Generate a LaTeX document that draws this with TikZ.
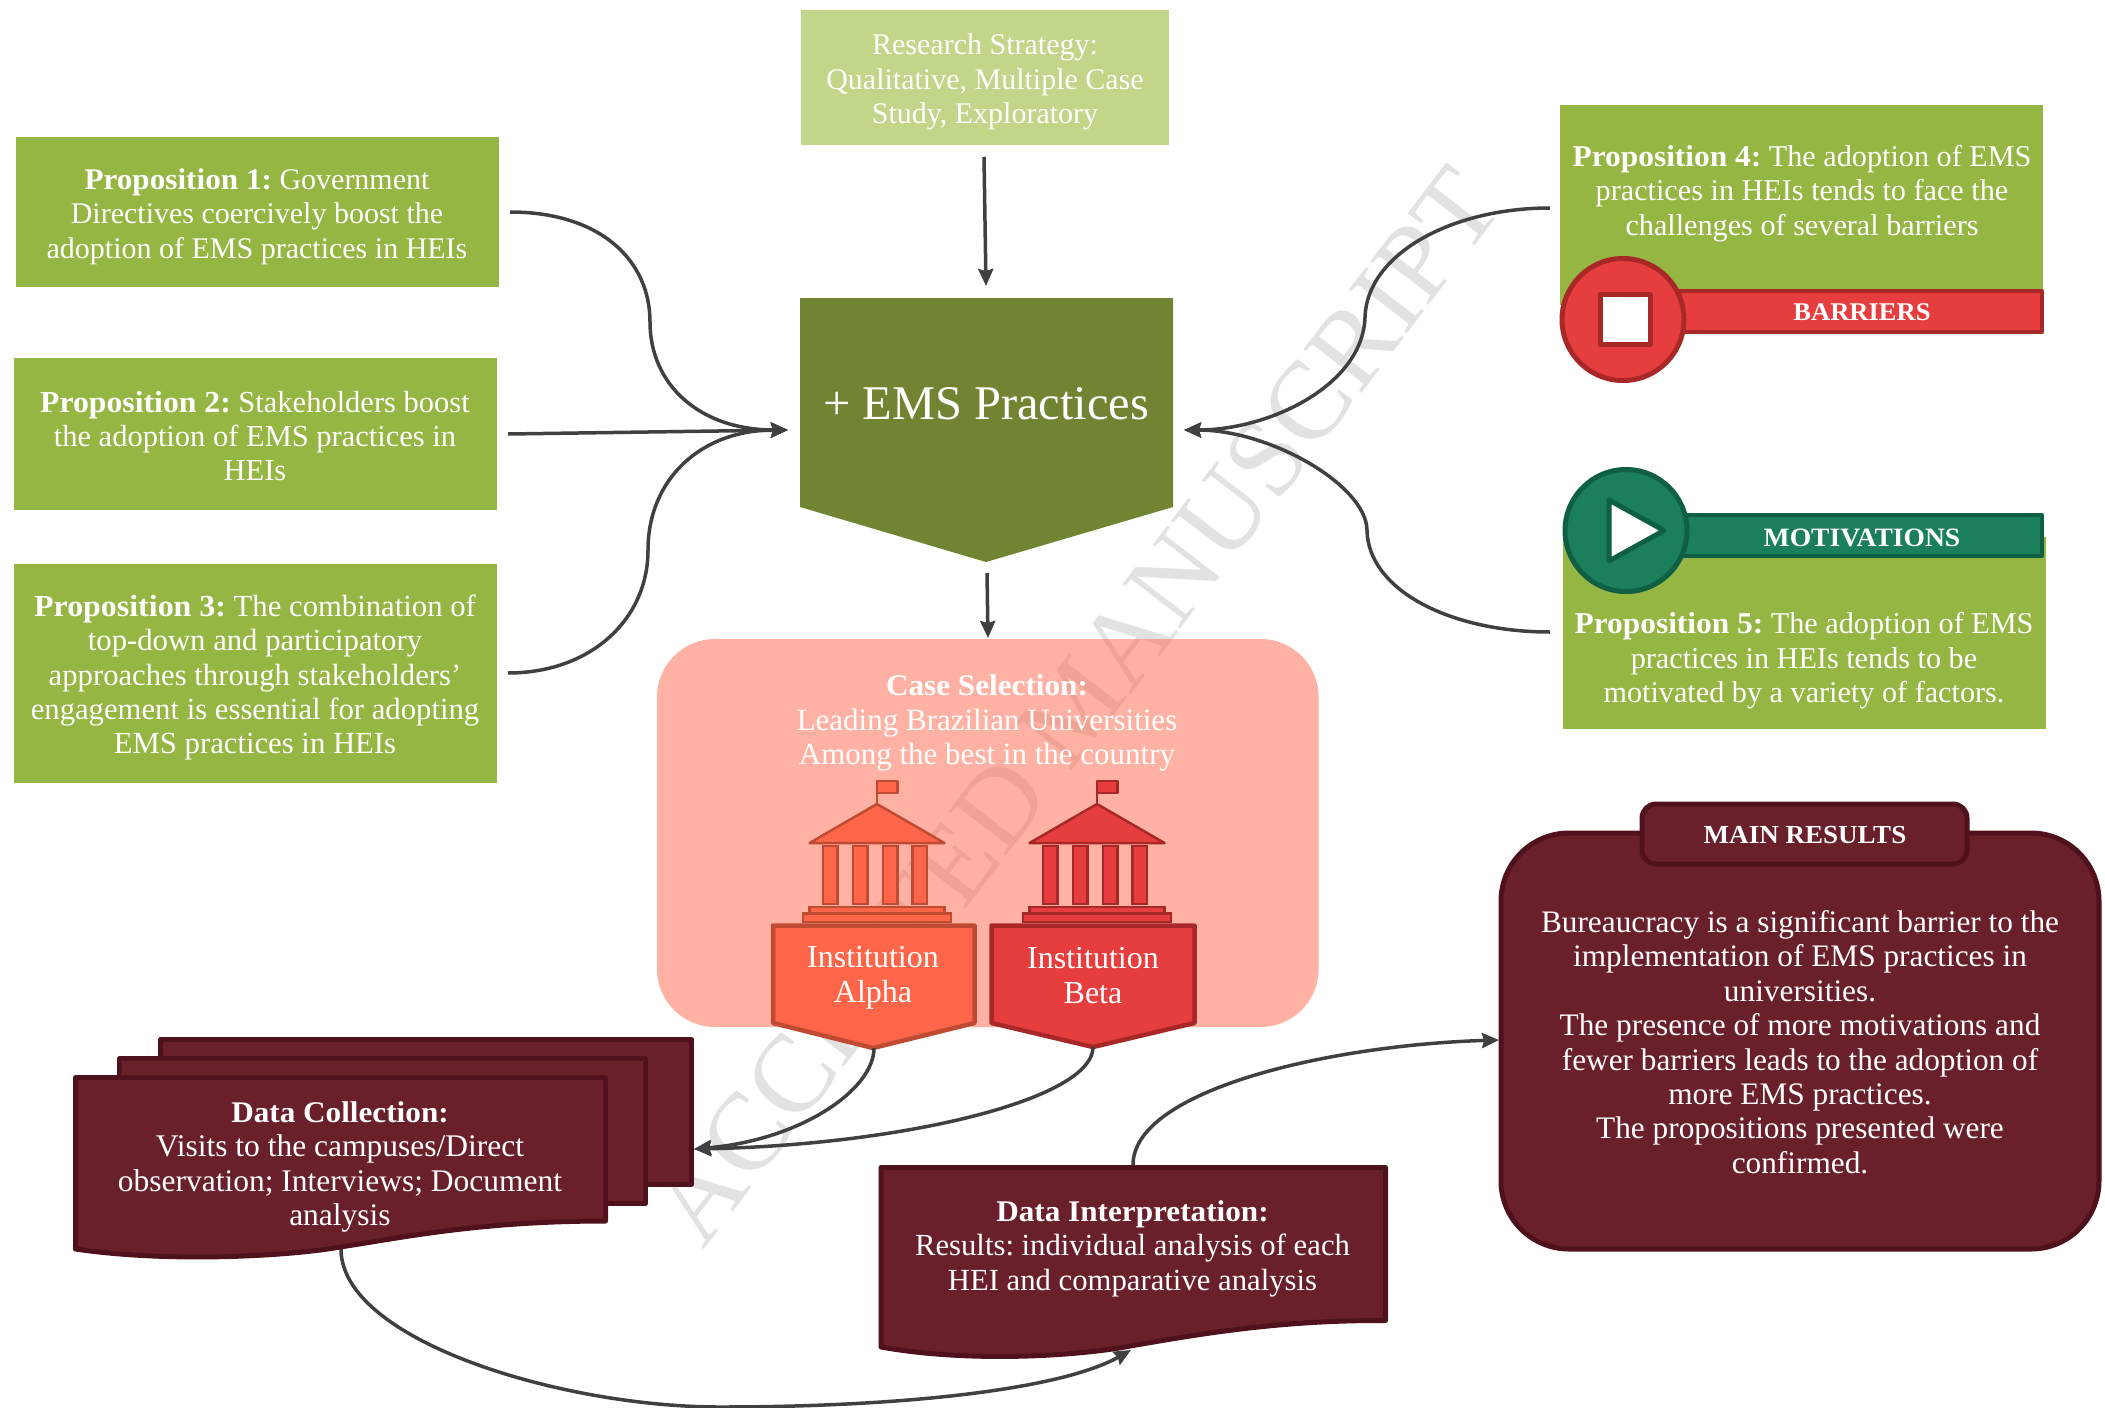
\documentclass[tikz,border=0pt]{standalone}
\usepackage{fontspec}
\setmainfont{Liberation Serif}[BoldFeatures={FakeStretch=1.04}]
\usetikzlibrary{arrows.meta,shapes.geometric}
\definecolor{propgreen}{HTML}{96B643}
\definecolor{stratgreen}{HTML}{C1D688}
\definecolor{emsgreen}{HTML}{708432}
\definecolor{redfill}{HTML}{E63E3E}
\definecolor{redline}{HTML}{A82828}
\definecolor{orangefill}{HTML}{FF6549}
\definecolor{orangeline}{HTML}{BE4B32}
\definecolor{tealfill}{HTML}{1B7F5C}
\definecolor{tealline}{HTML}{0F5F45}
\definecolor{maroonfill}{HTML}{6A202B}
\definecolor{maroonline}{HTML}{4F121C}
\definecolor{linkgrey}{HTML}{404040}
\definecolor{markgrey}{HTML}{E2E2E2}
\newcommand\szfont[1]{\fontsize{#1}{34.4}\selectfont\frenchspacing}
\newcommand\headtext[1]{{\szfont{30}\bfseries #1}}
\tikzset{
  x=1pt,y=-1pt,
  lbl/.style={text=white,align=center,inner sep=0pt,font=\szfont{#1}},
  lbl/.default=30.5,
  head/.style={text=white,align=center,inner sep=0pt,font=\fontsize{#1}{32}\selectfont\bfseries},
  head/.default=26,
  flat/.style={draw=none,inner sep=0pt,rectangle},
  link/.style={draw=linkgrey,line width=3.5pt,-{Stealth[length=17pt,width=15pt,inset=2pt]}},
  maroon/.style={fill=maroonfill,draw=maroonline,line width=5pt,line join=round},
  pics/building/.style n args={2}{code={
    \draw[fill=#1,draw=#2,line width=2.5pt,line join=round] (0,0) -- (0,-23) -- (20.5,-23) -- (20.5,-11) -- (0,-11);
    \draw[fill=#1,draw=#2,line width=2.5pt,line join=round] (0,0) -- (67.5,39) -- (-67.5,39) -- cycle;
    \foreach \cx in {-54,-24,5.8,35.7}
      \draw[fill=#1,draw=#2,line width=2.5pt] (\cx,42) rectangle ++(14.5,58);
    \draw[fill=#1,draw=#2,line width=2.5pt] (-67.5,103) rectangle (67.5,109.5);
    \draw[fill=#1,draw=#2,line width=2.5pt] (-74,109.5) rectangle (74,118);
  }}
}
\begin{document}
\begin{tikzpicture}
\useasboundingbox (0,0) rectangle (2105,1408);
% watermark
\node[text=markgrey,rotate=52.5,inner sep=0pt,font=\fontsize{111}{111}\selectfont] (mark) at (1076,706) {ACCEPTED MANUSCRIPT};
% rectangular boxes
\node[flat,fill=stratgreen,minimum width=368pt,minimum height=135pt] (strat) at (985,77.5) {};
\node[flat,fill=propgreen,minimum width=483pt,minimum height=150pt] (p1) at (257.5,212) {};
\node[flat,fill=propgreen,minimum width=483pt,minimum height=152pt] (p2) at (255.5,434) {};
\node[flat,fill=propgreen,minimum width=483pt,minimum height=219pt] (p3) at (255.5,673.5) {};
\node[flat,fill=propgreen,minimum width=483pt,minimum height=200pt] (p4) at (1801.5,205) {};
\node[flat,fill=propgreen,minimum width=483pt,minimum height=192pt] (p5) at (1804.5,633) {};
% central pentagon
\fill[emsgreen] (800,298) -- (1173,298) -- (1173,507) -- (986,562) -- (800,507) -- cycle;
\node[lbl,font=\fontsize{48.4}{52}\selectfont] (ems) at (986,404) {+ EMS Practices};
% case selection
\fill[orangefill,fill opacity=0.5,rounded corners=58pt] (657,639) rectangle (1318.6,1027);
\node[lbl=31] (casetext) at (987,723) {\headtext{Case Selection:}\\Leading Brazilian Universities\\Among the best in the country};
\pic at (877,804) {building={orangefill}{orangeline}};
\pic at (1097,804) {building={redfill}{redline}};
\draw[fill=orangefill,draw=orangeline,line width=4.5pt,line join=round] (773,925.5) -- (974.5,925.5) -- (974.5,1023) -- (873,1048) -- (773,1023) -- cycle;
\draw[fill=redfill,draw=redline,line width=4.5pt,line join=round] (991.5,925.5) -- (1194.5,925.5) -- (1194.5,1023) -- (1093,1047) -- (991.5,1023) -- cycle;
\node[lbl=32] (alpha) at (873,978) {Institution\\Alpha};
\node[lbl=32] (beta) at (1093,975.5) {Institution\\Beta};
% barriers
\draw[fill=redfill,draw=redline,line width=4.5pt,line join=round] (1623,291) rectangle (2042,332);
\draw[fill=redfill,draw=redline,line width=5pt] (1623,319.5) circle (61);
\draw[fill=white,draw=redline,line width=5pt,line join=round] (1600,294) rectangle (1650,344);
\node[head=25.5] (barr) at (1862,312.5) {BARRIERS};
% motivations
\draw[fill=tealfill,draw=tealline,line width=4.5pt,line join=round] (1626,515) rectangle (2042,556);
\draw[fill=tealfill,draw=tealline,line width=5pt] (1626,530.5) circle (61);
\draw[fill=white,draw=tealline,line width=5pt,line join=round] (1609,500) -- (1664,530.5) -- (1609,561) -- cycle;
\node[head=26.5] (moti) at (1862,537.5) {MOTIVATIONS};
% data collection
\draw[maroon] (160.5,1039.5) rectangle (691.5,1184);
\draw[maroon] (119.5,1058.5) rectangle (645.5,1203.5);
\draw[maroon] (75.5,1077.5) -- (605.5,1077.5) -- (605.5,1221) .. controls (480,1221) and (400,1238) .. (340,1247) .. controls (290,1256) and (170,1263) .. (75.5,1249) -- cycle;
\node[lbl=31.5] (dctext) at (340,1167) {\headtext{Data Collection:}\\Visits to the campuses/Direct\\observation; Interviews; Document\\analysis};
% data interpretation
\draw[maroon] (881,1167.5) -- (1385.5,1167.5) -- (1385.5,1320.5) .. controls (1280,1320) and (1200,1334) .. (1133,1345.5) .. controls (1080,1356) and (970,1363) .. (881,1347) -- cycle;
\node[lbl=30.7] (ditext) at (1132.5,1248.5) {\headtext{Data Interpretation:}\\Results: individual analysis of each\\HEI and comparative analysis};
% main results
\draw[maroon,rounded corners=68pt] (1501,833) rectangle (2099,1249);
\draw[maroon,rounded corners=14pt] (1642,804) rectangle (1967,864);
\node[head] (mrtitle) at (1805,835.5) {MAIN RESULTS};
\node[lbl=31.3] (mrtext) at (1800,1042) {Bureaucracy is a significant barrier to the\\implementation of EMS practices in\\universities.\\The presence of more motivations and\\fewer barriers leads to the adoption of\\more EMS practices.\\The propositions presented were\\confirmed.};
% labels of the boxes
\node[lbl=30] at (strat.center) [yshift=-4.5pt] {Research Strategy:\\Qualitative, Multiple Case\\Study, Exploratory};
\node[lbl=30] at (257,216.5) {\textbf{Proposition 1:} Government\\Directives coercively boost the\\adoption of EMS practices in HEIs};
\node[lbl=30.5] at (255,436) {\textbf{Proposition 2:} Stakeholders boost\\the adoption of EMS practices in\\HEIs};
\node[lbl=30.7] at (255,677.5) {\textbf{Proposition 3:} The combination of\\top-down and participatory\\approaches through stakeholders’\\engagement is essential for adopting\\EMS practices in HEIs};
\node[lbl=30.2] at (1802,193.5) {\textbf{Proposition 4:} The adoption of EMS\\practices in HEIs tends to face the\\challenges of several barriers};
\node[lbl=30.2] at (1804,661) {\textbf{Proposition 5:} The adoption of EMS\\practices in HEIs tends to be\\motivated by a variety of factors.};
% connector ends
\coordinate (stratout) at (984,157);
\coordinate (emsin) at (986,286);
\coordinate (emsout) at (987,573);
\coordinate (casein) at (988,638);
\coordinate (p1out) at (510,212);
\coordinate (p2out) at (508,434);
\coordinate (p3out) at (508,673);
\coordinate (p4out) at (1550,208);
\coordinate (p5out) at (1550,632);
\coordinate (emsleft) at (788,430);
\coordinate (emsright) at (1184,430);
\coordinate (alphaout) at (874,1048);
\coordinate (betaout) at (1093,1047);
\coordinate (dcin) at (694,1149);
\coordinate (dcout) at (341,1249);
\coordinate (diin) at (1131,1350);
\coordinate (diout) at (1133,1165);
\coordinate (mrin) at (1499,1040);
% connectors
\draw[link] (stratout) -- (emsin);
\draw[link] (emsout) -- (casein);
\draw[link] (p1out) .. controls (600,212) and (650,260) .. (650,322) .. controls (650,385) and (700,430) .. (emsleft);
\draw[link] (p2out) -- (emsleft);
\draw[link] (p3out) .. controls (590,673) and (648,620) .. (648,550) .. controls (648,480) and (700,430) .. (emsleft);
\draw[link] (p4out) .. controls (1450,208) and (1367,255) .. (1365,317) .. controls (1363,385) and (1270,430) .. (emsright);
\draw[link] (p5out) .. controls (1450,632) and (1368,590) .. (1367,530) .. controls (1366,485) and (1270,430) .. (emsright);
\draw[link] (alphaout) .. controls (874,1090) and (800,1140) .. (dcin);
\draw[link] (betaout) .. controls (1093,1100) and (900,1145) .. (dcin);
\draw[link] (dcout) .. controls (341,1340) and (560,1407) .. (720,1407) .. controls (900,1407) and (1060,1390) .. (diin);
\draw[link] (diout) .. controls (1133,1090) and (1330,1045) .. (mrin);
\end{tikzpicture}
\end{document}
